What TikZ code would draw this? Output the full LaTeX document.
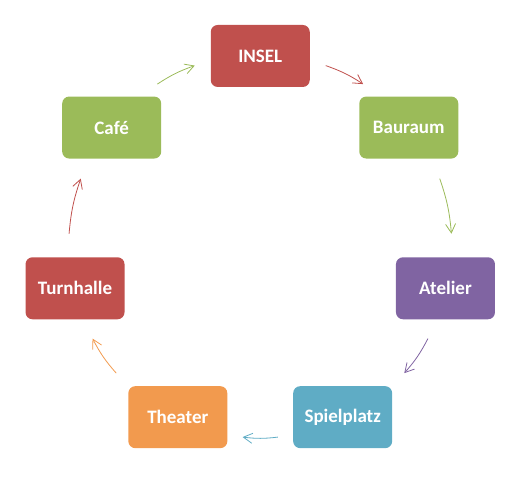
\documentclass[tikz,border=0pt]{standalone}
\usepackage{fontspec}
\setmainfont{Carlito}
\usepackage{tikz}
\usetikzlibrary{
  calc,
  arrows.meta
}
\definecolor{boxred}{RGB}{192,80,77}
\definecolor{boxgreen}{RGB}{155,187,89}
\definecolor{boxpurple}{RGB}{128,100,162}
\definecolor{boxaqua}{RGB}{95,172,197}
\definecolor{boxorange}{RGB}{242,154,78}

\begin{document}
\begin{tikzpicture}[x=1pt, y=1pt,
    stage/.style={rectangle, rounded corners=7pt, minimum width=99pt, minimum height=62pt,
      inner sep=0pt, text=white, font=\fontsize{19}{23}\selectfont\bfseries},
    arr/.style={-{Straight Barb[length=9pt, width=10pt]}, line width=0.8pt}]
      \useasboundingbox (0,0) rectangle (523,482);
      \coordinate (c) at (260.25,236);

      % Stations on the circle
      \foreach \name/\label/\ang/\col in {insel/INSEL/90/boxred, bauraum/Bauraum/38.57/boxgreen,
          atelier/Atelier/-12.86/boxpurple, spielplatz/Spielplatz/-64.29/boxaqua,
          theater/Theater/-115.71/boxorange, turnhalle/Turnhalle/-167.14/boxred,
          cafe/Café/141.43/boxgreen} {
        \node[stage, fill=\col] (\name) at ($(c)+(\ang:190)$) {\label};
      }

      % Arrows along the circle
      \foreach \src/\dst/\a/\b/\col in {insel/bauraum/0.38/0.64/boxred,
          bauraum/atelier/0.34/0.69/boxgreen, atelier/spielplatz/0.30/0.56/boxpurple,
          spielplatz/theater/0.39/0.61/boxaqua, theater/turnhalle/0.44/0.70/boxorange,
          turnhalle/cafe/0.31/0.66/boxred, cafe/insel/0.36/0.62/boxgreen} {
        \path (\src.center) to[bend left=25.71] coordinate[pos=\a] (s) coordinate[pos=\b] (e) (\dst.center);
        \draw[arr, \col] (s) to[bend left=7] (e);
      }
    \end{tikzpicture}
\end{document}
